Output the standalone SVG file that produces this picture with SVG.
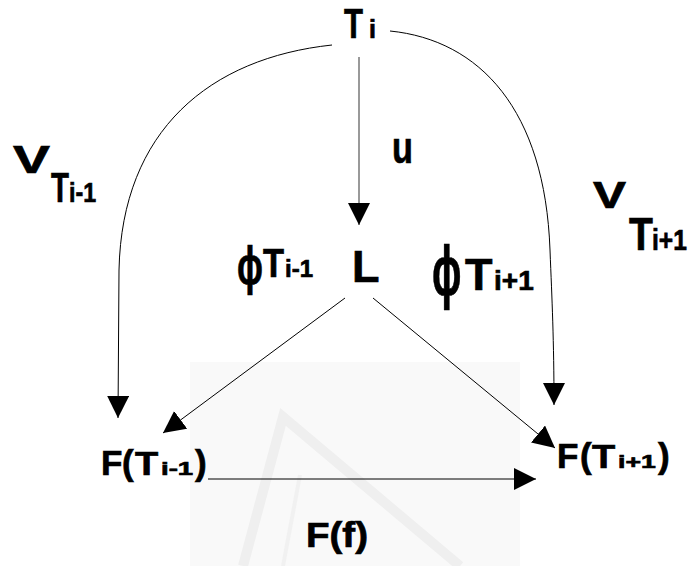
<svg xmlns="http://www.w3.org/2000/svg" width="689" height="566" viewBox="0 0 689 566">
<style>
text{font-family:'Liberation Sans',Arial,sans-serif;font-weight:700;fill:#000;stroke:#000;stroke-width:0.7}
.ln{fill:none;stroke:#000;stroke-width:1}
</style>
<defs>
<marker id="ah" markerUnits="userSpaceOnUse" markerWidth="22" markerHeight="22" refX="20" refY="10" orient="auto" viewBox="0 0 20 20">
<path d="M0,0 L20,10 L0,20 z" fill="#000"/>
</marker>
</defs>
<rect width="689" height="566" fill="#fff"/>
<g id="watermark">
<rect x="190" y="362" width="330" height="204" fill="#f9f9f9"/>
<path d="M243,566 L283,417 L460,566" fill="none" stroke="#efefef" stroke-width="10"/>
<path d="M300,475 L283,566" fill="none" stroke="#f1f1f1" stroke-width="4"/>
</g>
<g id="connectors">
<path class="ln" d="M332,45 C210,58 122,130 119,270 L118,418" marker-end="url(#ah)"/>
<path class="ln" d="M390,31 C480,40 545,110 550,250 C552,300 554,340 554,405" marker-end="url(#ah)"/>
<path d="M359,57 L359,225" fill="none" stroke="#777" stroke-width="1.5" marker-end="url(#ah)"/>
<path class="ln" d="M345,298 L163,433" marker-end="url(#ah)"/>
<path class="ln" d="M373,298 L555,448" marker-end="url(#ah)"/>
<path class="ln" stroke-width="1.5" d="M208,479 L536,479" marker-end="url(#ah)"/>
</g>
<g id="node-Ti">
<text font-size="42" transform="translate(344,38) scale(0.74,1)">T</text>
<text font-size="25" transform="translate(369,38)">i</text>
</g>
<g id="label-u">
<text font-size="44" transform="translate(392,163) scale(0.78,1)">u</text>
</g>
<g id="label-V-left">
<text font-size="39" transform="translate(13,173) scale(1.42,1)">V</text>
<text font-size="42" transform="translate(51,202) scale(0.7,1)">T</text>
<text font-size="28" transform="translate(69,202) scale(0.83,1)">i-1</text>
</g>
<g id="label-V-right">
<text font-size="36" transform="translate(593,208) scale(1.375,1)">V</text>
<text font-size="46" transform="translate(629,250) scale(0.85,1)">T</text>
<text font-size="30" transform="translate(652,250) scale(0.82,1)">i+1</text>
</g>
<g id="label-phi-left">
<text font-size="54" transform="translate(237,284) scale(0.64,1)">ϕ</text>
<text font-size="40" transform="translate(263,277) scale(0.86,1)">T</text>
<text font-size="24" transform="translate(285,277)">i-1</text>
</g>
<g id="node-L">
<text font-size="45" transform="translate(352,282)">L</text>
</g>
<g id="label-phi-right">
<text font-size="70" transform="translate(432,295) scale(0.56,1)">ϕ</text>
<text font-size="45" transform="translate(465,290)">T</text>
<text font-size="28" transform="translate(494,290)">i+1</text>
</g>
<g id="node-FTi-1">
<text font-size="35" transform="translate(101,475)">F</text>
<text font-size="35" transform="translate(122,475)">(</text>
<text font-size="33" transform="translate(135,475) scale(1.15,1)">T</text>
<text font-size="19" transform="translate(161,475) scale(1.45,1)">i-1</text>
<text font-size="35" transform="translate(195,475)">)</text>
</g>
<g id="node-FTi+1">
<text font-size="35" transform="translate(557,468)">F</text>
<text font-size="35" transform="translate(580,468)">(</text>
<text font-size="33" transform="translate(592,468) scale(1.15,1)">T</text>
<text font-size="19" transform="translate(618,468) scale(1.4,1)">i+1</text>
<text font-size="35" transform="translate(658,468)">)</text>
</g>
<g id="label-Ff">
<text font-size="35" transform="translate(306,547) scale(1.1,1)">F(f)</text>
</g>
</svg>
